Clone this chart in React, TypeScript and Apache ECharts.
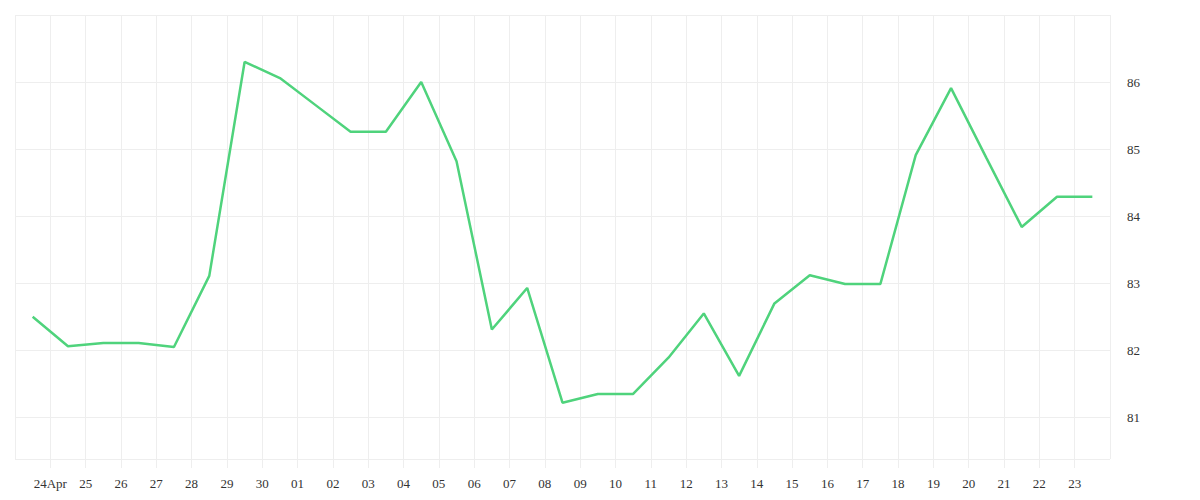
import {useEffect, useRef} from 'react';
import * as echarts from 'echarts';

// one label per day boundary, Apr 23 .. May 24
const dayLabels = [
    '23', '24Apr', '25', '26', '27', '28', '29', '30',
    '01', '02', '03', '04', '05', '06', '07', '08', '09', '10',
    '11', '12', '13', '14', '15', '16', '17', '18', '19', '20',
    '21', '22', '23', '24',
];

// one value per day, plotted at mid-day
const values = [
    82.5, 82.06, 82.11, 82.11, 82.05, 83.11, 86.3, 86.06, 85.66, 85.26,
    85.26, 86.0, 84.82, 82.31, 82.93, 81.22, 81.35, 81.35, 81.89, 82.55,
    81.62, 82.7, 83.12, 82.99, 82.99, 84.91, 85.91, 84.87, 83.84, 84.29,
    84.29,
];

const yMin = 80.38;
const yMax = 87;

const gridColor = '#eeeeee';
const lineColor = '#4fd37c';
const textStyle = {color: '#333', fontFamily: 'serif', fontSize: 13};

const App = () => {
    const chartRef = useRef<HTMLDivElement>(null);

    useEffect(() => {
        if (!chartRef.current) return;
        const chart = echarts.init(chartRef.current, undefined, {renderer: 'svg'});
        chart.setOption({
            animation: false,
            grid: {left: 7, right: 82, top: 7, bottom: 33, outerBoundsMode: 'none'},
            xAxis: {
                type: 'value',
                min: 0,
                max: dayLabels.length - 1,
                interval: 1,
                axisLine: {show: false},
                axisTick: {show: true, length: 9, lineStyle: {color: gridColor}},
                splitLine: {show: true, lineStyle: {color: gridColor}},
                axisLabel: {
                    ...textStyle,
                    margin: 18,
                    showMinLabel: false,
                    showMaxLabel: false,
                    formatter: (v: number) => dayLabels[Math.round(v)] ?? '',
                },
            },
            yAxis: {
                type: 'value',
                position: 'right',
                min: yMin,
                max: yMax,
                splitNumber: 6,
                axisLine: {show: false},
                axisTick: {show: false},
                splitLine: {show: true, lineStyle: {color: gridColor}},
                axisLabel: {
                    ...textStyle,
                    margin: 17,
                    showMinLabel: false,
                    showMaxLabel: false,
                },
            },
            series: [
                {
                    type: 'line',
                    data: values.map((v, i) => [i + 0.5, v]),
                    showSymbol: false,
                    lineStyle: {color: lineColor, width: 2.5},
                    itemStyle: {color: lineColor},
                },
            ],
        });

        return () => {
            chart.dispose();
        };
    }, []);

    return <div ref={chartRef} style={{width: '100%', height: 484}} />;
};

export default App;
